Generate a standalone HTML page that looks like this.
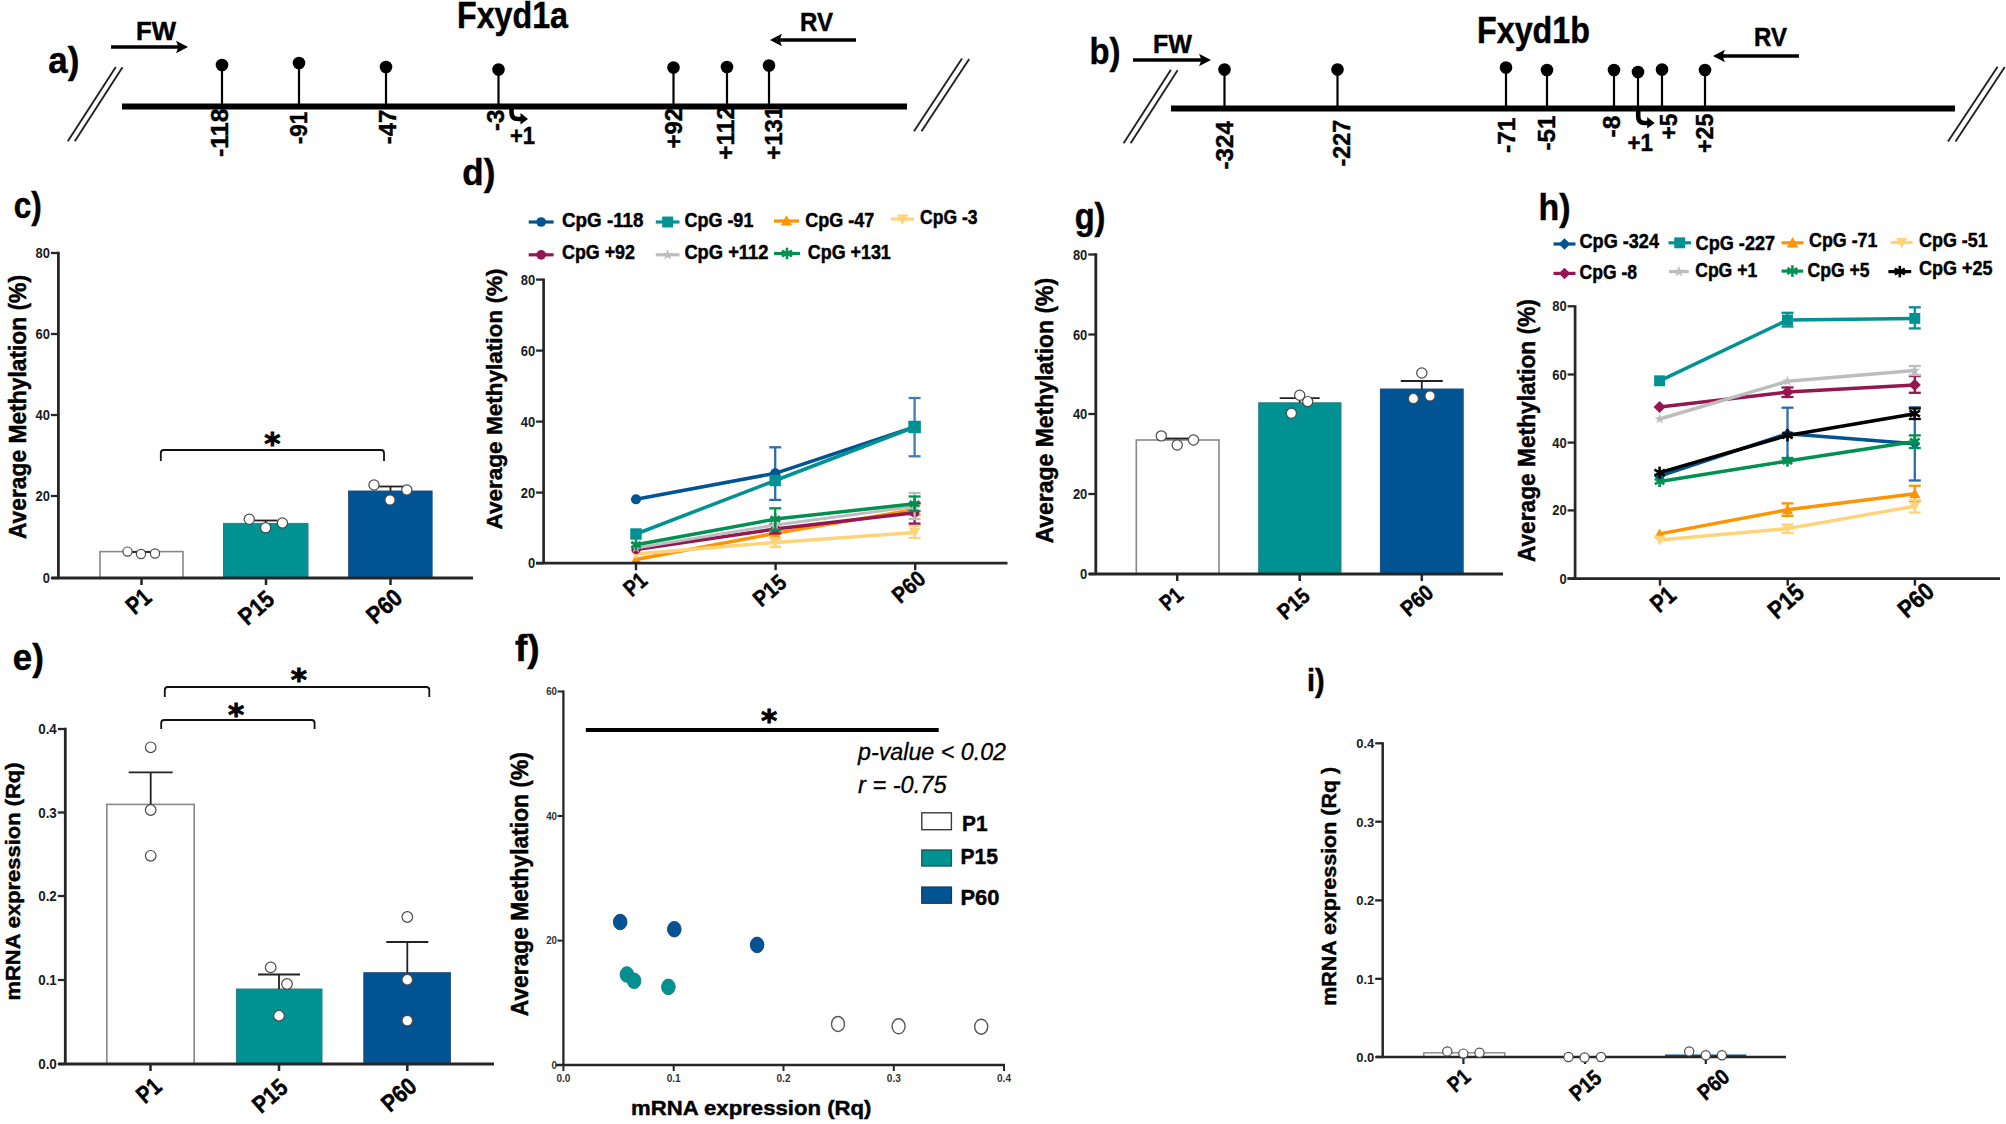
<!DOCTYPE html>
<html><head><meta charset="utf-8"><title>Fxyd1 methylation figure</title>
<style>html,body{margin:0;padding:0;background:#fff}svg{display:block}svg text{font-family:"Liberation Sans",sans-serif}svg text.ast{font-family:"DejaVu Sans","Liberation Sans",sans-serif}</style></head>
<body>
<svg width="2006" height="1124" viewBox="0 0 2006 1124">
<rect width="2006" height="1124" fill="#fff"/>
<text  font-size="36.5" font-weight="bold" text-anchor="start" fill="#000" textLength="31" lengthAdjust="spacingAndGlyphs" x="48.3" y="73" stroke="#000" stroke-width="0.45" >a)</text>
<text  font-size="36.5" font-weight="bold" text-anchor="start" fill="#000" textLength="111" lengthAdjust="spacingAndGlyphs" x="457" y="27.5" stroke="#000" stroke-width="0.45" >Fxyd1a</text>
<text  font-size="25.5" font-weight="bold" text-anchor="start" fill="#000" textLength="40" lengthAdjust="spacingAndGlyphs" x="136" y="40" stroke="#000" stroke-width="0.45" >FW</text>
<line x1="111" y1="47" x2="179.6" y2="47" stroke="#000" stroke-width="3.6" stroke-linecap="butt"/>
<polygon points="188,47 176,40.8 178.5,47 176,53.2" fill="#000"/>
<text  font-size="25.5" font-weight="bold" text-anchor="start" fill="#000" textLength="33" lengthAdjust="spacingAndGlyphs" x="800" y="31" stroke="#000" stroke-width="0.45" >RV</text>
<line x1="856" y1="40" x2="778.4" y2="40" stroke="#000" stroke-width="3.6" stroke-linecap="butt"/>
<polygon points="770,40 782,33.8 779.5,40 782,46.2" fill="#000"/>
<line x1="67.8" y1="141.2" x2="115.8" y2="66.9" stroke="#222" stroke-width="1.9" stroke-linecap="butt"/>
<line x1="74.8" y1="141.2" x2="122.5" y2="67.30000000000001" stroke="#222" stroke-width="1.9" stroke-linecap="butt"/>
<line x1="914" y1="131.3" x2="962" y2="58.6" stroke="#222" stroke-width="1.9" stroke-linecap="butt"/>
<line x1="921.5" y1="131.3" x2="969.2" y2="59.0" stroke="#222" stroke-width="1.9" stroke-linecap="butt"/>
<line x1="122" y1="106.5" x2="907" y2="106.5" stroke="#000" stroke-width="6" stroke-linecap="butt"/>
<line x1="222" y1="65" x2="222" y2="106" stroke="#000" stroke-width="2.2" stroke-linecap="butt"/>
<circle cx="222" cy="65" r="6.3" fill="#000"/>
<line x1="299" y1="63" x2="299" y2="106" stroke="#000" stroke-width="2.2" stroke-linecap="butt"/>
<circle cx="299" cy="63" r="6.3" fill="#000"/>
<line x1="386" y1="67" x2="386" y2="106" stroke="#000" stroke-width="2.2" stroke-linecap="butt"/>
<circle cx="386" cy="67" r="6.3" fill="#000"/>
<line x1="498.5" y1="69.5" x2="498.5" y2="106" stroke="#000" stroke-width="2.2" stroke-linecap="butt"/>
<circle cx="498.5" cy="69.5" r="6.3" fill="#000"/>
<line x1="673.5" y1="67.5" x2="673.5" y2="106" stroke="#000" stroke-width="2.2" stroke-linecap="butt"/>
<circle cx="673.5" cy="67.5" r="6.3" fill="#000"/>
<line x1="727" y1="67" x2="727" y2="106" stroke="#000" stroke-width="2.2" stroke-linecap="butt"/>
<circle cx="727" cy="67" r="6.3" fill="#000"/>
<line x1="769" y1="65.5" x2="769" y2="106" stroke="#000" stroke-width="2.2" stroke-linecap="butt"/>
<circle cx="769" cy="65.5" r="6.3" fill="#000"/>
<text  font-size="24" font-weight="bold" text-anchor="end" fill="#000" textLength="48.5" lengthAdjust="spacingAndGlyphs" transform="translate(227.5,108.5) rotate(-90)" stroke="#000" stroke-width="0.45" >-118</text>
<text  font-size="24" font-weight="bold" text-anchor="end" fill="#000" textLength="32.5" lengthAdjust="spacingAndGlyphs" transform="translate(307,111.7) rotate(-90)" stroke="#000" stroke-width="0.45" >-91</text>
<text  font-size="24" font-weight="bold" text-anchor="end" fill="#000" textLength="34.5" lengthAdjust="spacingAndGlyphs" transform="translate(396,109.7) rotate(-90)" stroke="#000" stroke-width="0.45" >-47</text>
<text  font-size="24" font-weight="bold" text-anchor="end" fill="#000" textLength="21.5" lengthAdjust="spacingAndGlyphs" transform="translate(503.5,109.5) rotate(-90)" stroke="#000" stroke-width="0.45" >-3</text>
<text  font-size="24" font-weight="bold" text-anchor="end" fill="#000" textLength="40.5" lengthAdjust="spacingAndGlyphs" transform="translate(681.7,108) rotate(-90)" stroke="#000" stroke-width="0.45" >+92</text>
<text  font-size="24" font-weight="bold" text-anchor="end" fill="#000" textLength="54" lengthAdjust="spacingAndGlyphs" transform="translate(734.2,105.8) rotate(-90)" stroke="#000" stroke-width="0.45" >+112</text>
<text  font-size="24" font-weight="bold" text-anchor="end" fill="#000" textLength="54" lengthAdjust="spacingAndGlyphs" transform="translate(781.5,105.8) rotate(-90)" stroke="#000" stroke-width="0.45" >+131</text>
<path d="M511.5,108.5 V112.5 Q511.5,119.0 518.0,119.0 H522.5" fill="none" stroke="#000" stroke-width="4.6"/>
<polygon points="528.0,119.0 520.5,113.0 520.5,124.5" fill="#000"/>
<text  font-size="24" font-weight="bold" text-anchor="start" fill="#000" textLength="25" lengthAdjust="spacingAndGlyphs" x="510" y="144" stroke="#000" stroke-width="0.45" >+1</text>
<text  font-size="37" font-weight="bold" text-anchor="start" fill="#000" textLength="31" lengthAdjust="spacingAndGlyphs" x="1089.5" y="64.3" stroke="#000" stroke-width="0.45" >b)</text>
<text  font-size="36.5" font-weight="bold" text-anchor="start" fill="#000" textLength="113" lengthAdjust="spacingAndGlyphs" x="1477" y="42.5" stroke="#000" stroke-width="0.45" >Fxyd1b</text>
<text  font-size="25.5" font-weight="bold" text-anchor="start" fill="#000" textLength="39" lengthAdjust="spacingAndGlyphs" x="1153" y="53" stroke="#000" stroke-width="0.45" >FW</text>
<line x1="1133" y1="60" x2="1202.6" y2="60" stroke="#000" stroke-width="3.6" stroke-linecap="butt"/>
<polygon points="1211,60 1199,53.8 1201.5,60 1199,66.2" fill="#000"/>
<text  font-size="25.5" font-weight="bold" text-anchor="start" fill="#000" textLength="33" lengthAdjust="spacingAndGlyphs" x="1754" y="46" stroke="#000" stroke-width="0.45" >RV</text>
<line x1="1799" y1="56" x2="1721.4" y2="56" stroke="#000" stroke-width="3.6" stroke-linecap="butt"/>
<polygon points="1713,56 1725,49.8 1722.5,56 1725,62.2" fill="#000"/>
<line x1="1123.6" y1="143.3" x2="1170.9" y2="69.8" stroke="#222" stroke-width="1.9" stroke-linecap="butt"/>
<line x1="1130.6" y1="143.3" x2="1177.6000000000001" y2="70.2" stroke="#222" stroke-width="1.9" stroke-linecap="butt"/>
<line x1="1948" y1="141.5" x2="1997.6" y2="66.7" stroke="#222" stroke-width="1.9" stroke-linecap="butt"/>
<line x1="1955.5" y1="141.5" x2="2004.8" y2="67.10000000000001" stroke="#222" stroke-width="1.9" stroke-linecap="butt"/>
<line x1="1171" y1="108.5" x2="1955" y2="108.5" stroke="#000" stroke-width="6" stroke-linecap="butt"/>
<line x1="1224.5" y1="69.5" x2="1224.5" y2="108" stroke="#000" stroke-width="2.2" stroke-linecap="butt"/>
<circle cx="1224.5" cy="69.5" r="6.3" fill="#000"/>
<line x1="1337.5" y1="69.5" x2="1337.5" y2="108" stroke="#000" stroke-width="2.2" stroke-linecap="butt"/>
<circle cx="1337.5" cy="69.5" r="6.3" fill="#000"/>
<line x1="1506" y1="67.5" x2="1506" y2="108" stroke="#000" stroke-width="2.2" stroke-linecap="butt"/>
<circle cx="1506" cy="67.5" r="6.3" fill="#000"/>
<line x1="1547" y1="70" x2="1547" y2="108" stroke="#000" stroke-width="2.2" stroke-linecap="butt"/>
<circle cx="1547" cy="70" r="6.3" fill="#000"/>
<line x1="1614" y1="70" x2="1614" y2="108" stroke="#000" stroke-width="2.2" stroke-linecap="butt"/>
<circle cx="1614" cy="70" r="6.3" fill="#000"/>
<line x1="1638" y1="72" x2="1638" y2="108" stroke="#000" stroke-width="2.2" stroke-linecap="butt"/>
<circle cx="1638" cy="72" r="6.3" fill="#000"/>
<line x1="1662" y1="69.5" x2="1662" y2="108" stroke="#000" stroke-width="2.2" stroke-linecap="butt"/>
<circle cx="1662" cy="69.5" r="6.3" fill="#000"/>
<line x1="1705" y1="70" x2="1705" y2="108" stroke="#000" stroke-width="2.2" stroke-linecap="butt"/>
<circle cx="1705" cy="70" r="6.3" fill="#000"/>
<text  font-size="24" font-weight="bold" text-anchor="end" fill="#000" textLength="48.5" lengthAdjust="spacingAndGlyphs" transform="translate(1232.7,121) rotate(-90)" stroke="#000" stroke-width="0.45" >-324</text>
<text  font-size="24" font-weight="bold" text-anchor="end" fill="#000" textLength="46.5" lengthAdjust="spacingAndGlyphs" transform="translate(1350,119.9) rotate(-90)" stroke="#000" stroke-width="0.45" >-227</text>
<text  font-size="24" font-weight="bold" text-anchor="end" fill="#000" textLength="35.5" lengthAdjust="spacingAndGlyphs" transform="translate(1514.5,117.5) rotate(-90)" stroke="#000" stroke-width="0.45" >-71</text>
<text  font-size="24" font-weight="bold" text-anchor="end" fill="#000" textLength="35" lengthAdjust="spacingAndGlyphs" transform="translate(1554.7,115.6) rotate(-90)" stroke="#000" stroke-width="0.45" >-51</text>
<text  font-size="24" font-weight="bold" text-anchor="end" fill="#000" textLength="22" lengthAdjust="spacingAndGlyphs" transform="translate(1619.5,115.6) rotate(-90)" stroke="#000" stroke-width="0.45" >-8</text>
<text  font-size="24" font-weight="bold" text-anchor="end" fill="#000" textLength="26" lengthAdjust="spacingAndGlyphs" transform="translate(1676.5,113.6) rotate(-90)" stroke="#000" stroke-width="0.45" >+5</text>
<text  font-size="24" font-weight="bold" text-anchor="end" fill="#000" textLength="39.5" lengthAdjust="spacingAndGlyphs" transform="translate(1712.8,113.6) rotate(-90)" stroke="#000" stroke-width="0.45" >+25</text>
<path d="M1638.2,110.5 V116.5 Q1638.2,123.0 1644.7,123.0 H1649.2" fill="none" stroke="#000" stroke-width="4.6"/>
<polygon points="1654.7,123.0 1647.2,117.0 1647.2,128.5" fill="#000"/>
<text  font-size="24" font-weight="bold" text-anchor="start" fill="#000" textLength="25.5" lengthAdjust="spacingAndGlyphs" x="1627.5" y="150.5" stroke="#000" stroke-width="0.45" >+1</text>
<text  font-size="36.5" font-weight="bold" text-anchor="start" fill="#000" textLength="28" lengthAdjust="spacingAndGlyphs" x="13.7" y="218" stroke="#000" stroke-width="0.45" >c)</text>
<text  font-size="23.5" font-weight="bold" text-anchor="middle" fill="#000" textLength="264" lengthAdjust="spacingAndGlyphs" transform="translate(25.8,407) rotate(-90)" stroke="#000" stroke-width="0.45" >Average Methylation (%)</text>
<rect x="100" y="551.6" width="83" height="26.399999999999977" fill="#fff" stroke="#888" stroke-width="1.6"/>
<rect x="223.5" y="523.4" width="84.5" height="54.60000000000002" fill="#009193" stroke="#2a7f80" stroke-width="1"/>
<rect x="348.6" y="491" width="83.5" height="87" fill="#005493" stroke="#1f4f80" stroke-width="1"/>
<line x1="58.4" y1="251.85" x2="58.4" y2="578" stroke="#262626" stroke-width="2.8" stroke-linecap="butt"/>
<line x1="51.5" y1="578" x2="473" y2="578" stroke="#262626" stroke-width="2.8" stroke-linecap="butt"/>
<line x1="50.9" y1="253" x2="58.4" y2="253" stroke="#262626" stroke-width="2.3" stroke-linecap="butt"/>
<text  font-size="14" font-weight="bold" text-anchor="end" fill="#1a1a1a" textLength="14.4" lengthAdjust="spacingAndGlyphs" x="49.9" y="258.0" >80</text>
<line x1="50.9" y1="334" x2="58.4" y2="334" stroke="#262626" stroke-width="2.3" stroke-linecap="butt"/>
<text  font-size="14" font-weight="bold" text-anchor="end" fill="#1a1a1a" textLength="14.4" lengthAdjust="spacingAndGlyphs" x="49.9" y="339.0" >60</text>
<line x1="50.9" y1="415" x2="58.4" y2="415" stroke="#262626" stroke-width="2.3" stroke-linecap="butt"/>
<text  font-size="14" font-weight="bold" text-anchor="end" fill="#1a1a1a" textLength="14.4" lengthAdjust="spacingAndGlyphs" x="49.9" y="420.0" >40</text>
<line x1="50.9" y1="496" x2="58.4" y2="496" stroke="#262626" stroke-width="2.3" stroke-linecap="butt"/>
<text  font-size="14" font-weight="bold" text-anchor="end" fill="#1a1a1a" textLength="14.4" lengthAdjust="spacingAndGlyphs" x="49.9" y="501.0" >20</text>
<line x1="50.9" y1="578" x2="58.4" y2="578" stroke="#262626" stroke-width="2.3" stroke-linecap="butt"/>
<text  font-size="14" font-weight="bold" text-anchor="end" fill="#1a1a1a" textLength="7.2" lengthAdjust="spacingAndGlyphs" x="49.9" y="583.0" >0</text>
<line x1="141.5" y1="578" x2="141.5" y2="585" stroke="#262626" stroke-width="2.52" stroke-linecap="butt"/>
<line x1="266" y1="578" x2="266" y2="585" stroke="#262626" stroke-width="2.52" stroke-linecap="butt"/>
<line x1="390.5" y1="578" x2="390.5" y2="585" stroke="#262626" stroke-width="2.52" stroke-linecap="butt"/>
<line x1="130" y1="552" x2="156" y2="552" stroke="#222" stroke-width="1.8" stroke-linecap="butt"/>
<line x1="265.6" y1="520.5" x2="265.6" y2="523.4" stroke="#222" stroke-width="1.8" stroke-linecap="butt"/>
<line x1="253.60000000000002" y1="520.5" x2="277.6" y2="520.5" stroke="#222" stroke-width="1.8" stroke-linecap="butt"/>
<line x1="390.5" y1="486.5" x2="390.5" y2="491" stroke="#222" stroke-width="1.8" stroke-linecap="butt"/>
<line x1="377.5" y1="486.5" x2="403.5" y2="486.5" stroke="#222" stroke-width="1.8" stroke-linecap="butt"/>
<circle cx="127.5" cy="551.6" r="4.6" fill="#fff" stroke="#4a4a4a" stroke-width="1.2"/>
<circle cx="141" cy="554" r="4.6" fill="#fff" stroke="#4a4a4a" stroke-width="1.2"/>
<circle cx="155" cy="553.5" r="4.6" fill="#fff" stroke="#4a4a4a" stroke-width="1.2"/>
<circle cx="249.3" cy="519.3" r="5.1" fill="#fff" stroke="#4a4a4a" stroke-width="1.2"/>
<circle cx="265.6" cy="527.7" r="5.1" fill="#fff" stroke="#4a4a4a" stroke-width="1.2"/>
<circle cx="282.4" cy="523" r="5.1" fill="#fff" stroke="#4a4a4a" stroke-width="1.2"/>
<circle cx="374" cy="485" r="5.1" fill="#fff" stroke="#4a4a4a" stroke-width="1.2"/>
<circle cx="390" cy="500" r="5.1" fill="#fff" stroke="#4a4a4a" stroke-width="1.2"/>
<circle cx="406.8" cy="490" r="5.1" fill="#fff" stroke="#4a4a4a" stroke-width="1.2"/>
<path d="M160.8,461 V453 Q160.8,450 163.8,450 H381 Q384,450 384,453 V461" fill="none" stroke="#111" stroke-width="1.8"/>
<text class="ast" font-size="31" font-weight="bold" text-anchor="middle" stroke="#000" stroke-width="0.9" x="272.3" y="454.27">*</text>
<text  font-size="24.4" font-weight="bold" text-anchor="end" fill="#000" textLength="24.4" lengthAdjust="spacingAndGlyphs" transform="translate(153.1,599.6) rotate(-41)" stroke="#000" stroke-width="0.45" >P1</text>
<text  font-size="24.4" font-weight="bold" text-anchor="end" fill="#000" textLength="38.1" lengthAdjust="spacingAndGlyphs" transform="translate(276.1,601.6) rotate(-41)" stroke="#000" stroke-width="0.45" >P15</text>
<text  font-size="24.4" font-weight="bold" text-anchor="end" fill="#000" textLength="38.1" lengthAdjust="spacingAndGlyphs" transform="translate(404.1,600.2) rotate(-41)" stroke="#000" stroke-width="0.45" >P60</text>
<text  font-size="36.5" font-weight="bold" text-anchor="start" fill="#000" textLength="31" lengthAdjust="spacingAndGlyphs" x="12.8" y="670.3" stroke="#000" stroke-width="0.45" >e)</text>
<text  font-size="20.5" font-weight="bold" text-anchor="middle" fill="#000" textLength="238" lengthAdjust="spacingAndGlyphs" transform="translate(20.3,881.5) rotate(-90)" stroke="#000" stroke-width="0.45" >mRNA expression (Rq)</text>
<rect x="106.8" y="804.4" width="87.4" height="259.6" fill="#fff" stroke="#888" stroke-width="1.6"/>
<rect x="236.4" y="989" width="85.6" height="75" fill="#009193" stroke="#2a7f80" stroke-width="1"/>
<rect x="363.8" y="972.7" width="86.6" height="91.29999999999995" fill="#005493" stroke="#1f4f80" stroke-width="1"/>
<line x1="65.3" y1="727.85" x2="65.3" y2="1064" stroke="#262626" stroke-width="2.8" stroke-linecap="butt"/>
<line x1="58.5" y1="1064" x2="494" y2="1064" stroke="#262626" stroke-width="2.8" stroke-linecap="butt"/>
<line x1="57.8" y1="729" x2="65.3" y2="729" stroke="#262626" stroke-width="2.3" stroke-linecap="butt"/>
<text  font-size="14" font-weight="bold" text-anchor="end" fill="#1a1a1a" textLength="18.6" lengthAdjust="spacingAndGlyphs" x="56.8" y="734.0" >0.4</text>
<line x1="57.8" y1="812.5" x2="65.3" y2="812.5" stroke="#262626" stroke-width="2.3" stroke-linecap="butt"/>
<text  font-size="14" font-weight="bold" text-anchor="end" fill="#1a1a1a" textLength="18.6" lengthAdjust="spacingAndGlyphs" x="56.8" y="817.5" >0.3</text>
<line x1="57.8" y1="896" x2="65.3" y2="896" stroke="#262626" stroke-width="2.3" stroke-linecap="butt"/>
<text  font-size="14" font-weight="bold" text-anchor="end" fill="#1a1a1a" textLength="18.6" lengthAdjust="spacingAndGlyphs" x="56.8" y="901.0" >0.2</text>
<line x1="57.8" y1="980" x2="65.3" y2="980" stroke="#262626" stroke-width="2.3" stroke-linecap="butt"/>
<text  font-size="14" font-weight="bold" text-anchor="end" fill="#1a1a1a" textLength="18.6" lengthAdjust="spacingAndGlyphs" x="56.8" y="985.0" >0.1</text>
<line x1="57.8" y1="1064" x2="65.3" y2="1064" stroke="#262626" stroke-width="2.3" stroke-linecap="butt"/>
<text  font-size="14" font-weight="bold" text-anchor="end" fill="#1a1a1a" textLength="18.6" lengthAdjust="spacingAndGlyphs" x="56.8" y="1069.0" >0.0</text>
<line x1="150.5" y1="1064" x2="150.5" y2="1071" stroke="#262626" stroke-width="2.52" stroke-linecap="butt"/>
<line x1="279" y1="1064" x2="279" y2="1071" stroke="#262626" stroke-width="2.52" stroke-linecap="butt"/>
<line x1="407.3" y1="1064" x2="407.3" y2="1071" stroke="#262626" stroke-width="2.52" stroke-linecap="butt"/>
<line x1="150.7" y1="772.4" x2="150.7" y2="804.4" stroke="#222" stroke-width="1.8" stroke-linecap="butt"/>
<line x1="128.7" y1="772.4" x2="172.7" y2="772.4" stroke="#222" stroke-width="1.8" stroke-linecap="butt"/>
<line x1="279" y1="974.5" x2="279" y2="989" stroke="#222" stroke-width="1.8" stroke-linecap="butt"/>
<line x1="258" y1="974.5" x2="300" y2="974.5" stroke="#222" stroke-width="1.8" stroke-linecap="butt"/>
<line x1="407.3" y1="942" x2="407.3" y2="972.7" stroke="#222" stroke-width="1.8" stroke-linecap="butt"/>
<line x1="386.3" y1="942" x2="428.3" y2="942" stroke="#222" stroke-width="1.8" stroke-linecap="butt"/>
<circle cx="150.7" cy="747.3" r="5.3" fill="#fff" stroke="#4a4a4a" stroke-width="1.2"/>
<circle cx="150.7" cy="810" r="5.3" fill="#fff" stroke="#4a4a4a" stroke-width="1.2"/>
<circle cx="150.7" cy="855.8" r="5.3" fill="#fff" stroke="#4a4a4a" stroke-width="1.2"/>
<circle cx="270.7" cy="967.4" r="5.3" fill="#fff" stroke="#4a4a4a" stroke-width="1.2"/>
<circle cx="287" cy="984" r="5.3" fill="#fff" stroke="#4a4a4a" stroke-width="1.2"/>
<circle cx="279" cy="1015.8" r="5.3" fill="#fff" stroke="#4a4a4a" stroke-width="1.2"/>
<circle cx="407.3" cy="917" r="5.3" fill="#fff" stroke="#4a4a4a" stroke-width="1.2"/>
<circle cx="407.3" cy="979.7" r="5.3" fill="#fff" stroke="#4a4a4a" stroke-width="1.2"/>
<circle cx="407.3" cy="1020.6" r="5.3" fill="#fff" stroke="#4a4a4a" stroke-width="1.2"/>
<path d="M164.8,697 V690 Q164.8,687 167.8,687 H426.3 Q429.3,687 429.3,690 V697" fill="none" stroke="#111" stroke-width="1.8"/>
<text class="ast" font-size="31" font-weight="bold" text-anchor="middle" stroke="#000" stroke-width="0.9" x="298.8" y="690.27">*</text>
<path d="M161.2,729 V723 Q161.2,720 164.2,720 H311.6 Q314.6,720 314.6,723 V729" fill="none" stroke="#111" stroke-width="1.8"/>
<text class="ast" font-size="31" font-weight="bold" text-anchor="middle" stroke="#000" stroke-width="0.9" x="236" y="725.27">*</text>
<text  font-size="24.1" font-weight="bold" text-anchor="end" fill="#000" textLength="24.1" lengthAdjust="spacingAndGlyphs" transform="translate(163.3,1088.7) rotate(-41)" stroke="#000" stroke-width="0.45" >P1</text>
<text  font-size="24.1" font-weight="bold" text-anchor="end" fill="#000" textLength="37.6" lengthAdjust="spacingAndGlyphs" transform="translate(289.3,1089.9) rotate(-41)" stroke="#000" stroke-width="0.45" >P15</text>
<text  font-size="24.1" font-weight="bold" text-anchor="end" fill="#000" textLength="37.6" lengthAdjust="spacingAndGlyphs" transform="translate(418.3,1088.7) rotate(-41)" stroke="#000" stroke-width="0.45" >P60</text>
<text  font-size="36.5" font-weight="bold" text-anchor="start" fill="#000" textLength="30.8" lengthAdjust="spacingAndGlyphs" x="1074.7" y="228.7" stroke="#000" stroke-width="0.45" >g)</text>
<text  font-size="23.5" font-weight="bold" text-anchor="middle" fill="#000" textLength="265.5" lengthAdjust="spacingAndGlyphs" transform="translate(1052.8,410.6) rotate(-90)" stroke="#000" stroke-width="0.45" >Average Methylation (%)</text>
<rect x="1136.3" y="440" width="82.7" height="134" fill="#fff" stroke="#888" stroke-width="1.6"/>
<rect x="1258.7" y="402.8" width="82.3" height="171.2" fill="#009193" stroke="#2a7f80" stroke-width="1"/>
<rect x="1380.4" y="389" width="82.8" height="185" fill="#005493" stroke="#1f4f80" stroke-width="1"/>
<line x1="1095.8" y1="253.35" x2="1095.8" y2="574" stroke="#262626" stroke-width="2.8" stroke-linecap="butt"/>
<line x1="1089" y1="574" x2="1503" y2="574" stroke="#262626" stroke-width="2.8" stroke-linecap="butt"/>
<line x1="1088.3" y1="254.5" x2="1095.8" y2="254.5" stroke="#262626" stroke-width="2.3" stroke-linecap="butt"/>
<text  font-size="14" font-weight="bold" text-anchor="end" fill="#1a1a1a" textLength="14.4" lengthAdjust="spacingAndGlyphs" x="1087.3" y="259.5" >80</text>
<line x1="1088.3" y1="334.5" x2="1095.8" y2="334.5" stroke="#262626" stroke-width="2.3" stroke-linecap="butt"/>
<text  font-size="14" font-weight="bold" text-anchor="end" fill="#1a1a1a" textLength="14.4" lengthAdjust="spacingAndGlyphs" x="1087.3" y="339.5" >60</text>
<line x1="1088.3" y1="414" x2="1095.8" y2="414" stroke="#262626" stroke-width="2.3" stroke-linecap="butt"/>
<text  font-size="14" font-weight="bold" text-anchor="end" fill="#1a1a1a" textLength="14.4" lengthAdjust="spacingAndGlyphs" x="1087.3" y="419.0" >40</text>
<line x1="1088.3" y1="494" x2="1095.8" y2="494" stroke="#262626" stroke-width="2.3" stroke-linecap="butt"/>
<text  font-size="14" font-weight="bold" text-anchor="end" fill="#1a1a1a" textLength="14.4" lengthAdjust="spacingAndGlyphs" x="1087.3" y="499.0" >20</text>
<line x1="1088.3" y1="574" x2="1095.8" y2="574" stroke="#262626" stroke-width="2.3" stroke-linecap="butt"/>
<text  font-size="14" font-weight="bold" text-anchor="end" fill="#1a1a1a" textLength="7.2" lengthAdjust="spacingAndGlyphs" x="1087.3" y="579.0" >0</text>
<line x1="1177.2" y1="574" x2="1177.2" y2="581" stroke="#262626" stroke-width="2.52" stroke-linecap="butt"/>
<line x1="1299.7" y1="574" x2="1299.7" y2="581" stroke="#262626" stroke-width="2.52" stroke-linecap="butt"/>
<line x1="1421.8" y1="574" x2="1421.8" y2="581" stroke="#262626" stroke-width="2.52" stroke-linecap="butt"/>
<line x1="1165" y1="438.5" x2="1190" y2="438.5" stroke="#222" stroke-width="1.8" stroke-linecap="butt"/>
<line x1="1299.7" y1="398.2" x2="1299.7" y2="402.8" stroke="#222" stroke-width="1.8" stroke-linecap="butt"/>
<line x1="1279.7" y1="398.2" x2="1319.7" y2="398.2" stroke="#222" stroke-width="1.8" stroke-linecap="butt"/>
<line x1="1421.8" y1="381" x2="1421.8" y2="389" stroke="#222" stroke-width="1.8" stroke-linecap="butt"/>
<line x1="1400.8" y1="381" x2="1442.8" y2="381" stroke="#222" stroke-width="1.8" stroke-linecap="butt"/>
<circle cx="1161.3" cy="435.9" r="5.1" fill="#fff" stroke="#4a4a4a" stroke-width="1.2"/>
<circle cx="1177.2" cy="445" r="5.1" fill="#fff" stroke="#4a4a4a" stroke-width="1.2"/>
<circle cx="1193.5" cy="440" r="5.1" fill="#fff" stroke="#4a4a4a" stroke-width="1.2"/>
<circle cx="1299.7" cy="395.3" r="5.1" fill="#fff" stroke="#4a4a4a" stroke-width="1.2"/>
<circle cx="1307.7" cy="401.6" r="5.1" fill="#fff" stroke="#4a4a4a" stroke-width="1.2"/>
<circle cx="1291.4" cy="413.3" r="5.1" fill="#fff" stroke="#4a4a4a" stroke-width="1.2"/>
<circle cx="1421.8" cy="373" r="5.1" fill="#fff" stroke="#4a4a4a" stroke-width="1.2"/>
<circle cx="1413.4" cy="398.6" r="5.1" fill="#fff" stroke="#4a4a4a" stroke-width="1.2"/>
<circle cx="1430" cy="396" r="5.1" fill="#fff" stroke="#4a4a4a" stroke-width="1.2"/>
<text  font-size="22.1" font-weight="bold" text-anchor="end" fill="#000" textLength="22.1" lengthAdjust="spacingAndGlyphs" transform="translate(1184.5,597.3) rotate(-41)" stroke="#000" stroke-width="0.45" >P1</text>
<text  font-size="22.1" font-weight="bold" text-anchor="end" fill="#000" textLength="34.5" lengthAdjust="spacingAndGlyphs" transform="translate(1311.5,598.1) rotate(-41)" stroke="#000" stroke-width="0.45" >P15</text>
<text  font-size="22.1" font-weight="bold" text-anchor="end" fill="#000" textLength="34.5" lengthAdjust="spacingAndGlyphs" transform="translate(1434.9,594.8) rotate(-41)" stroke="#000" stroke-width="0.45" >P60</text>
<text  font-size="32" font-weight="bold" text-anchor="start" fill="#000" textLength="17.6" lengthAdjust="spacingAndGlyphs" x="1307" y="691" stroke="#000" stroke-width="0.45" >i)</text>
<text  font-size="20.5" font-weight="bold" text-anchor="middle" fill="#000" textLength="239" lengthAdjust="spacingAndGlyphs" transform="translate(1336.2,886.3) rotate(-90)" stroke="#000" stroke-width="0.45" >mRNA expression  (Rq )</text>
<rect x="1423.8" y="1052.8" width="81" height="4.2000000000000455" fill="#fff" stroke="#888" stroke-width="1.4"/>
<rect x="1665" y="1054.5" width="81.4" height="2.5" fill="#005493"/>
<line x1="1382.7" y1="742.15" x2="1382.7" y2="1057" stroke="#262626" stroke-width="2.5" stroke-linecap="butt"/>
<line x1="1376" y1="1057" x2="1786" y2="1057" stroke="#262626" stroke-width="2.5" stroke-linecap="butt"/>
<line x1="1375.2" y1="743.3" x2="1382.7" y2="743.3" stroke="#262626" stroke-width="2.3" stroke-linecap="butt"/>
<text  font-size="13.5" font-weight="bold" text-anchor="end" fill="#1a1a1a" textLength="18.0" lengthAdjust="spacingAndGlyphs" x="1374.2" y="748.1" >0.4</text>
<line x1="1375.2" y1="821.7" x2="1382.7" y2="821.7" stroke="#262626" stroke-width="2.3" stroke-linecap="butt"/>
<text  font-size="13.5" font-weight="bold" text-anchor="end" fill="#1a1a1a" textLength="18.0" lengthAdjust="spacingAndGlyphs" x="1374.2" y="826.5" >0.3</text>
<line x1="1375.2" y1="900.4" x2="1382.7" y2="900.4" stroke="#262626" stroke-width="2.3" stroke-linecap="butt"/>
<text  font-size="13.5" font-weight="bold" text-anchor="end" fill="#1a1a1a" textLength="18.0" lengthAdjust="spacingAndGlyphs" x="1374.2" y="905.2" >0.2</text>
<line x1="1375.2" y1="978.8" x2="1382.7" y2="978.8" stroke="#262626" stroke-width="2.3" stroke-linecap="butt"/>
<text  font-size="13.5" font-weight="bold" text-anchor="end" fill="#1a1a1a" textLength="18.0" lengthAdjust="spacingAndGlyphs" x="1374.2" y="983.6" >0.1</text>
<line x1="1375.2" y1="1057" x2="1382.7" y2="1057" stroke="#262626" stroke-width="2.3" stroke-linecap="butt"/>
<text  font-size="13.5" font-weight="bold" text-anchor="end" fill="#1a1a1a" textLength="18.0" lengthAdjust="spacingAndGlyphs" x="1374.2" y="1061.8" >0.0</text>
<line x1="1463.4" y1="1057" x2="1463.4" y2="1064" stroke="#262626" stroke-width="2.25" stroke-linecap="butt"/>
<line x1="1585.1" y1="1057" x2="1585.1" y2="1064" stroke="#262626" stroke-width="2.25" stroke-linecap="butt"/>
<line x1="1705.8" y1="1057" x2="1705.8" y2="1064" stroke="#262626" stroke-width="2.25" stroke-linecap="butt"/>
<circle cx="1447.3" cy="1051.4" r="4.6" fill="#fff" stroke="#4a4a4a" stroke-width="1.2"/>
<circle cx="1463.4" cy="1053.6" r="4.6" fill="#fff" stroke="#4a4a4a" stroke-width="1.2"/>
<circle cx="1479.5" cy="1052.8" r="4.6" fill="#fff" stroke="#4a4a4a" stroke-width="1.2"/>
<circle cx="1568.5" cy="1057" r="4.6" fill="#fff" stroke="#4a4a4a" stroke-width="1.2"/>
<circle cx="1584.6" cy="1057.5" r="4.6" fill="#fff" stroke="#4a4a4a" stroke-width="1.2"/>
<circle cx="1601" cy="1057" r="4.6" fill="#fff" stroke="#4a4a4a" stroke-width="1.2"/>
<circle cx="1689.2" cy="1051.4" r="4.6" fill="#fff" stroke="#4a4a4a" stroke-width="1.2"/>
<circle cx="1705.8" cy="1055.3" r="4.6" fill="#fff" stroke="#4a4a4a" stroke-width="1.2"/>
<circle cx="1721.9" cy="1055.3" r="4.6" fill="#fff" stroke="#4a4a4a" stroke-width="1.2"/>
<text  font-size="21.8" font-weight="bold" text-anchor="end" fill="#000" textLength="21.8" lengthAdjust="spacingAndGlyphs" transform="translate(1471.9,1079.0) rotate(-41)" stroke="#000" stroke-width="0.45" >P1</text>
<text  font-size="21.8" font-weight="bold" text-anchor="end" fill="#000" textLength="34.0" lengthAdjust="spacingAndGlyphs" transform="translate(1603.1,1079.9) rotate(-41)" stroke="#000" stroke-width="0.45" >P15</text>
<text  font-size="21.8" font-weight="bold" text-anchor="end" fill="#000" textLength="34.0" lengthAdjust="spacingAndGlyphs" transform="translate(1731.1,1078.9) rotate(-41)" stroke="#000" stroke-width="0.45" >P60</text>
<text  font-size="37" font-weight="bold" text-anchor="start" fill="#000" textLength="24.7" lengthAdjust="spacingAndGlyphs" x="515" y="661" stroke="#000" stroke-width="0.45" >f)</text>
<line x1="563.4" y1="690.5" x2="563.4" y2="1065" stroke="#262626" stroke-width="2.3" stroke-linecap="butt"/>
<line x1="556" y1="1065" x2="1005" y2="1065" stroke="#262626" stroke-width="2.3" stroke-linecap="butt"/>
<line x1="557.5" y1="691.5" x2="563.4" y2="691.5" stroke="#262626" stroke-width="2" stroke-linecap="butt"/>
<text  font-size="10" font-weight="bold" text-anchor="end" fill="#333" textLength="10.8" lengthAdjust="spacingAndGlyphs" x="557" y="695.0" >60</text>
<line x1="557.5" y1="816" x2="563.4" y2="816" stroke="#262626" stroke-width="2" stroke-linecap="butt"/>
<text  font-size="10" font-weight="bold" text-anchor="end" fill="#333" textLength="10.8" lengthAdjust="spacingAndGlyphs" x="557" y="819.5" >40</text>
<line x1="557.5" y1="940.6" x2="563.4" y2="940.6" stroke="#262626" stroke-width="2" stroke-linecap="butt"/>
<text  font-size="10" font-weight="bold" text-anchor="end" fill="#333" textLength="10.8" lengthAdjust="spacingAndGlyphs" x="557" y="944.1" >20</text>
<line x1="557.5" y1="1065" x2="563.4" y2="1065" stroke="#262626" stroke-width="2" stroke-linecap="butt"/>
<text  font-size="10" font-weight="bold" text-anchor="end" fill="#333" textLength="5.4" lengthAdjust="spacingAndGlyphs" x="557" y="1068.5" >0</text>
<line x1="563.4" y1="1065" x2="563.4" y2="1071" stroke="#262626" stroke-width="2" stroke-linecap="butt"/>
<text  font-size="10" font-weight="bold" text-anchor="middle" fill="#333" textLength="14.0" lengthAdjust="spacingAndGlyphs" x="563.4" y="1082" >0.0</text>
<line x1="673.7" y1="1065" x2="673.7" y2="1071" stroke="#262626" stroke-width="2" stroke-linecap="butt"/>
<text  font-size="10" font-weight="bold" text-anchor="middle" fill="#333" textLength="14.0" lengthAdjust="spacingAndGlyphs" x="673.7" y="1082" >0.1</text>
<line x1="783.5" y1="1065" x2="783.5" y2="1071" stroke="#262626" stroke-width="2" stroke-linecap="butt"/>
<text  font-size="10" font-weight="bold" text-anchor="middle" fill="#333" textLength="14.0" lengthAdjust="spacingAndGlyphs" x="783.5" y="1082" >0.2</text>
<line x1="893.8" y1="1065" x2="893.8" y2="1071" stroke="#262626" stroke-width="2" stroke-linecap="butt"/>
<text  font-size="10" font-weight="bold" text-anchor="middle" fill="#333" textLength="14.0" lengthAdjust="spacingAndGlyphs" x="893.8" y="1082" >0.3</text>
<line x1="1004" y1="1065" x2="1004" y2="1071" stroke="#262626" stroke-width="2" stroke-linecap="butt"/>
<text  font-size="10" font-weight="bold" text-anchor="middle" fill="#333" textLength="14.0" lengthAdjust="spacingAndGlyphs" x="1004" y="1082" >0.4</text>
<text  font-size="23.5" font-weight="bold" text-anchor="middle" fill="#000" textLength="264" lengthAdjust="spacingAndGlyphs" transform="translate(528.1,884.2) rotate(-90)" stroke="#000" stroke-width="0.45" >Average Methylation (%)</text>
<text  font-size="21" font-weight="bold" text-anchor="start" fill="#000" textLength="240.5" lengthAdjust="spacingAndGlyphs" x="631" y="1114.6" stroke="#000" stroke-width="0.45" >mRNA expression (Rq)</text>
<line x1="585.8" y1="730" x2="938.7" y2="730" stroke="#000" stroke-width="4.2" stroke-linecap="butt"/>
<text class="ast" font-size="31" font-weight="bold" text-anchor="middle" stroke="#000" stroke-width="0.9" x="769" y="730.67">*</text>
<text  font-size="23" font-weight="normal" text-anchor="start" fill="#000" font-style="italic" textLength="148" lengthAdjust="spacingAndGlyphs" x="858" y="760.4" stroke="#000" stroke-width="0.3" >p-value &lt; 0.02</text>
<text  font-size="23" font-weight="normal" text-anchor="start" fill="#000" font-style="italic" textLength="88.5" lengthAdjust="spacingAndGlyphs" x="858" y="792.5" stroke="#000" stroke-width="0.3" >r = -0.75</text>
<rect x="921.8" y="812.8" width="29.6" height="16.9" fill="#fff" stroke="#3a3a3a" stroke-width="1.4"/>
<text  font-size="22.5" font-weight="bold" text-anchor="start" fill="#000" textLength="25.5" lengthAdjust="spacingAndGlyphs" x="962" y="831.4" stroke="#000" stroke-width="0.45" >P1</text>
<rect x="921.8" y="850" width="29.6" height="16" fill="#009193" stroke="#1d5a5c" stroke-width="1.4"/>
<text  font-size="22.5" font-weight="bold" text-anchor="start" fill="#000" textLength="37.5" lengthAdjust="spacingAndGlyphs" x="960.5" y="863.5" stroke="#000" stroke-width="0.45" >P15</text>
<rect x="921.8" y="887.1" width="29.6" height="16.1" fill="#005493" stroke="#123a66" stroke-width="1.4"/>
<text  font-size="22.5" font-weight="bold" text-anchor="start" fill="#000" textLength="39" lengthAdjust="spacingAndGlyphs" x="960.5" y="904.9" stroke="#000" stroke-width="0.45" >P60</text>
<ellipse cx="620.2" cy="922" rx="6.8" ry="7.8" fill="#005493" stroke="#1c4a86" stroke-width="1"/>
<ellipse cx="674.3" cy="929.2" rx="6.8" ry="7.8" fill="#005493" stroke="#1c4a86" stroke-width="1"/>
<ellipse cx="757.1" cy="944.9" rx="6.8" ry="7.8" fill="#005493" stroke="#1c4a86" stroke-width="1"/>
<ellipse cx="626.9" cy="974.5" rx="6.8" ry="7.8" fill="#009193" stroke="#1f7f80" stroke-width="1"/>
<ellipse cx="634.1" cy="980.8" rx="6.8" ry="7.8" fill="#009193" stroke="#1f7f80" stroke-width="1"/>
<ellipse cx="668.4" cy="986.9" rx="6.8" ry="7.8" fill="#009193" stroke="#1f7f80" stroke-width="1"/>
<ellipse cx="838" cy="1024" rx="6.5" ry="7.5" fill="#fff" stroke="#555" stroke-width="1.4"/>
<ellipse cx="898.6" cy="1026.3" rx="6.5" ry="7.5" fill="#fff" stroke="#555" stroke-width="1.4"/>
<ellipse cx="981.2" cy="1026.7" rx="6.5" ry="7.5" fill="#fff" stroke="#555" stroke-width="1.4"/>
<text  font-size="37" font-weight="bold" text-anchor="start" fill="#000" textLength="33" lengthAdjust="spacingAndGlyphs" x="462.3" y="185.4" stroke="#000" stroke-width="0.45" >d)</text>
<text  font-size="22.5" font-weight="bold" text-anchor="middle" fill="#000" textLength="261" lengthAdjust="spacingAndGlyphs" transform="translate(501.5,399) rotate(-90)" stroke="#000" stroke-width="0.45" >Average Methylation (%)</text>
<line x1="775.2" y1="447.3" x2="775.2" y2="499.9" stroke="#2f6bb0" stroke-width="2.3" stroke-linecap="butt"/>
<line x1="769.2" y1="447.3" x2="781.2" y2="447.3" stroke="#2f6bb0" stroke-width="2.3" stroke-linecap="butt"/>
<line x1="769.2" y1="499.9" x2="781.2" y2="499.9" stroke="#2f6bb0" stroke-width="2.3" stroke-linecap="butt"/>
<line x1="914.6" y1="398" x2="914.6" y2="456.3" stroke="#3f7db8" stroke-width="2.3" stroke-linecap="butt"/>
<line x1="908.6" y1="398" x2="920.6" y2="398" stroke="#3f7db8" stroke-width="2.3" stroke-linecap="butt"/>
<line x1="908.6" y1="456.3" x2="920.6" y2="456.3" stroke="#3f7db8" stroke-width="2.3" stroke-linecap="butt"/>
<polyline points="636,499.3 775.2,473.3 914.6,427" fill="none" stroke="#005493" stroke-width="3.5" stroke-linejoin="round"/>
<circle cx="636" cy="499.3" r="5.06" fill="#005493"/>
<circle cx="775.2" cy="473.3" r="5.06" fill="#005493"/>
<circle cx="914.6" cy="427" r="5.06" fill="#005493"/>
<polyline points="636,534 775.2,480.5 914.6,427" fill="none" stroke="#009193" stroke-width="3.5" stroke-linejoin="round"/>
<rect x="630.28" y="528.28" width="11.440000000000001" height="11.440000000000001" fill="#009193"/>
<rect x="769.48" y="474.78" width="11.440000000000001" height="11.440000000000001" fill="#009193"/>
<rect x="908.88" y="421.28" width="11.440000000000001" height="11.440000000000001" fill="#009193"/>
<rect x="908.36" y="420.76" width="12.48" height="12.48" fill="#009193"/>
<line x1="775.2" y1="529" x2="775.2" y2="538" stroke="#FF9300" stroke-width="2.3" stroke-linecap="butt"/>
<line x1="769.2" y1="529" x2="781.2" y2="529" stroke="#FF9300" stroke-width="2.3" stroke-linecap="butt"/>
<line x1="769.2" y1="538" x2="781.2" y2="538" stroke="#FF9300" stroke-width="2.3" stroke-linecap="butt"/>
<line x1="914.6" y1="504" x2="914.6" y2="515" stroke="#FF9300" stroke-width="2.3" stroke-linecap="butt"/>
<line x1="908.6" y1="504" x2="920.6" y2="504" stroke="#FF9300" stroke-width="2.3" stroke-linecap="butt"/>
<line x1="908.6" y1="515" x2="920.6" y2="515" stroke="#FF9300" stroke-width="2.3" stroke-linecap="butt"/>
<polyline points="636,559.5 775.2,533.4 914.6,509.6" fill="none" stroke="#FF9300" stroke-width="3.5" stroke-linejoin="round"/>
<polygon points="636,554.0 630.5,563.9 641.5,563.9" fill="#FF9300"/>
<polygon points="775.2,527.9 769.7,537.8 780.7,537.8" fill="#FF9300"/>
<polygon points="914.6,504.1 909.1,514.0 920.1,514.0" fill="#FF9300"/>
<line x1="775.2" y1="538" x2="775.2" y2="547" stroke="#FFD479" stroke-width="2.3" stroke-linecap="butt"/>
<line x1="769.2" y1="538" x2="781.2" y2="538" stroke="#FFD479" stroke-width="2.3" stroke-linecap="butt"/>
<line x1="769.2" y1="547" x2="781.2" y2="547" stroke="#FFD479" stroke-width="2.3" stroke-linecap="butt"/>
<line x1="914.6" y1="526" x2="914.6" y2="538" stroke="#FFD479" stroke-width="2.3" stroke-linecap="butt"/>
<line x1="908.6" y1="526" x2="920.6" y2="526" stroke="#FFD479" stroke-width="2.3" stroke-linecap="butt"/>
<line x1="908.6" y1="538" x2="920.6" y2="538" stroke="#FFD479" stroke-width="2.3" stroke-linecap="butt"/>
<polyline points="636,554 775.2,542.4 914.6,532.5" fill="none" stroke="#FFD479" stroke-width="3.5" stroke-linejoin="round"/>
<polygon points="636,559.5 630.5,549.6 641.5,549.6" fill="#FFD479"/>
<polygon points="775.2,547.9 769.7,538.0 780.7,538.0" fill="#FFD479"/>
<polygon points="914.6,538.0 909.1,528.1 920.1,528.1" fill="#FFD479"/>
<line x1="775.2" y1="524.5" x2="775.2" y2="533.5" stroke="#941751" stroke-width="2.3" stroke-linecap="butt"/>
<line x1="769.2" y1="524.5" x2="781.2" y2="524.5" stroke="#941751" stroke-width="2.3" stroke-linecap="butt"/>
<line x1="769.2" y1="533.5" x2="781.2" y2="533.5" stroke="#941751" stroke-width="2.3" stroke-linecap="butt"/>
<line x1="914.6" y1="503" x2="914.6" y2="523.6" stroke="#941751" stroke-width="2.3" stroke-linecap="butt"/>
<line x1="908.6" y1="503" x2="920.6" y2="503" stroke="#941751" stroke-width="2.3" stroke-linecap="butt"/>
<line x1="908.6" y1="523.6" x2="920.6" y2="523.6" stroke="#941751" stroke-width="2.3" stroke-linecap="butt"/>
<polyline points="636,549.6 775.2,529 914.6,512.8" fill="none" stroke="#941751" stroke-width="3.5" stroke-linejoin="round"/>
<circle cx="636" cy="549.6" r="4.6" fill="#941751"/>
<circle cx="775.2" cy="529" r="4.6" fill="#941751"/>
<circle cx="914.6" cy="512.8" r="4.6" fill="#941751"/>
<line x1="775.2" y1="520" x2="775.2" y2="530" stroke="#BDBDBD" stroke-width="2.3" stroke-linecap="butt"/>
<line x1="769.2" y1="520" x2="781.2" y2="520" stroke="#BDBDBD" stroke-width="2.3" stroke-linecap="butt"/>
<line x1="769.2" y1="530" x2="781.2" y2="530" stroke="#BDBDBD" stroke-width="2.3" stroke-linecap="butt"/>
<line x1="914.6" y1="493" x2="914.6" y2="519" stroke="#BDBDBD" stroke-width="2.3" stroke-linecap="butt"/>
<line x1="908.6" y1="493" x2="920.6" y2="493" stroke="#BDBDBD" stroke-width="2.3" stroke-linecap="butt"/>
<line x1="908.6" y1="519" x2="920.6" y2="519" stroke="#BDBDBD" stroke-width="2.3" stroke-linecap="butt"/>
<polyline points="636,548 775.2,525 914.6,506.5" fill="none" stroke="#BDBDBD" stroke-width="2.8" stroke-linejoin="round"/>
<polygon points="636.0,542.5 637.3,546.2 641.2,546.3 638.1,548.7 639.2,552.4 636.0,550.2 632.8,552.4 633.9,548.7 630.8,546.3 634.7,546.2" fill="#BDBDBD"/>
<polygon points="775.2,519.5 776.5,523.2 780.4,523.3 777.3,525.7 778.4,529.4 775.2,527.2 772.0,529.4 773.1,525.7 770.0,523.3 773.9,523.2" fill="#BDBDBD"/>
<polygon points="914.6,501.0 915.9,504.7 919.8,504.8 916.7,507.2 917.8,510.9 914.6,508.7 911.4,510.9 912.5,507.2 909.4,504.8 913.3,504.7" fill="#BDBDBD"/>
<line x1="775.2" y1="508.3" x2="775.2" y2="530" stroke="#009051" stroke-width="2.3" stroke-linecap="butt"/>
<line x1="769.2" y1="508.3" x2="781.2" y2="508.3" stroke="#009051" stroke-width="2.3" stroke-linecap="butt"/>
<line x1="769.2" y1="530" x2="781.2" y2="530" stroke="#009051" stroke-width="2.3" stroke-linecap="butt"/>
<line x1="914.6" y1="496.5" x2="914.6" y2="511" stroke="#009051" stroke-width="2.3" stroke-linecap="butt"/>
<line x1="908.6" y1="496.5" x2="920.6" y2="496.5" stroke="#009051" stroke-width="2.3" stroke-linecap="butt"/>
<line x1="908.6" y1="511" x2="920.6" y2="511" stroke="#009051" stroke-width="2.3" stroke-linecap="butt"/>
<polyline points="636,544.8 775.2,519.1 914.6,503.8" fill="none" stroke="#009051" stroke-width="3.5" stroke-linejoin="round"/>
<line x1="636.0" y1="539.3" x2="636.0" y2="550.3" stroke="#009051" stroke-width="2.6" stroke-linecap="butt"/>
<line x1="640.8" y1="542.0" x2="631.2" y2="547.5" stroke="#009051" stroke-width="2.6" stroke-linecap="butt"/>
<line x1="640.8" y1="547.5" x2="631.2" y2="542.0" stroke="#009051" stroke-width="2.6" stroke-linecap="butt"/>
<line x1="775.2" y1="513.6" x2="775.2" y2="524.6" stroke="#009051" stroke-width="2.6" stroke-linecap="butt"/>
<line x1="780.0" y1="516.4" x2="770.4" y2="521.9" stroke="#009051" stroke-width="2.6" stroke-linecap="butt"/>
<line x1="780.0" y1="521.9" x2="770.4" y2="516.4" stroke="#009051" stroke-width="2.6" stroke-linecap="butt"/>
<line x1="914.6" y1="498.3" x2="914.6" y2="509.3" stroke="#009051" stroke-width="2.6" stroke-linecap="butt"/>
<line x1="919.4" y1="501.1" x2="909.8" y2="506.6" stroke="#009051" stroke-width="2.6" stroke-linecap="butt"/>
<line x1="919.4" y1="506.6" x2="909.8" y2="501.1" stroke="#009051" stroke-width="2.6" stroke-linecap="butt"/>
<line x1="543.6" y1="278.45000000000005" x2="543.6" y2="563.2" stroke="#262626" stroke-width="2.7" stroke-linecap="butt"/>
<line x1="536" y1="563.2" x2="1007.5" y2="563.2" stroke="#262626" stroke-width="2.7" stroke-linecap="butt"/>
<line x1="536.1" y1="279.6" x2="543.6" y2="279.6" stroke="#262626" stroke-width="2.3" stroke-linecap="butt"/>
<text  font-size="14" font-weight="bold" text-anchor="end" fill="#1a1a1a" textLength="14.4" lengthAdjust="spacingAndGlyphs" x="535.1" y="284.6" >80</text>
<line x1="536.1" y1="350.6" x2="543.6" y2="350.6" stroke="#262626" stroke-width="2.3" stroke-linecap="butt"/>
<text  font-size="14" font-weight="bold" text-anchor="end" fill="#1a1a1a" textLength="14.4" lengthAdjust="spacingAndGlyphs" x="535.1" y="355.6" >60</text>
<line x1="536.1" y1="421.6" x2="543.6" y2="421.6" stroke="#262626" stroke-width="2.3" stroke-linecap="butt"/>
<text  font-size="14" font-weight="bold" text-anchor="end" fill="#1a1a1a" textLength="14.4" lengthAdjust="spacingAndGlyphs" x="535.1" y="426.6" >40</text>
<line x1="536.1" y1="492.6" x2="543.6" y2="492.6" stroke="#262626" stroke-width="2.3" stroke-linecap="butt"/>
<text  font-size="14" font-weight="bold" text-anchor="end" fill="#1a1a1a" textLength="14.4" lengthAdjust="spacingAndGlyphs" x="535.1" y="497.6" >20</text>
<line x1="536.1" y1="563.2" x2="543.6" y2="563.2" stroke="#262626" stroke-width="2.3" stroke-linecap="butt"/>
<text  font-size="14" font-weight="bold" text-anchor="end" fill="#1a1a1a" textLength="7.2" lengthAdjust="spacingAndGlyphs" x="535.1" y="568.2" >0</text>
<line x1="636" y1="563.2" x2="636" y2="570.2" stroke="#262626" stroke-width="2.43" stroke-linecap="butt"/>
<line x1="775.6" y1="563.2" x2="775.6" y2="570.2" stroke="#262626" stroke-width="2.43" stroke-linecap="butt"/>
<line x1="915.2" y1="563.2" x2="915.2" y2="570.2" stroke="#262626" stroke-width="2.43" stroke-linecap="butt"/>
<text  font-size="22.6" font-weight="bold" text-anchor="end" fill="#000" textLength="22.6" lengthAdjust="spacingAndGlyphs" transform="translate(648.8,582.7) rotate(-41)" stroke="#000" stroke-width="0.45" >P1</text>
<text  font-size="22.6" font-weight="bold" text-anchor="end" fill="#000" textLength="35.3" lengthAdjust="spacingAndGlyphs" transform="translate(788.0,584.7) rotate(-41)" stroke="#000" stroke-width="0.45" >P15</text>
<text  font-size="22.6" font-weight="bold" text-anchor="end" fill="#000" textLength="35.3" lengthAdjust="spacingAndGlyphs" transform="translate(927.0,581.1) rotate(-41)" stroke="#000" stroke-width="0.45" >P60</text>
<line x1="528.7" y1="222" x2="553.6" y2="222" stroke="#005493" stroke-width="3.2" stroke-linecap="butt"/>
<circle cx="541.1500000000001" cy="222" r="4.83" fill="#005493"/>
<text  font-size="20" font-weight="bold" text-anchor="start" fill="#000" textLength="81.5" lengthAdjust="spacingAndGlyphs" x="562" y="226.5" stroke="#000" stroke-width="0.45" >CpG -118</text>
<line x1="655.8" y1="222" x2="679.5" y2="222" stroke="#009193" stroke-width="3.2" stroke-linecap="butt"/>
<rect x="662.1899999999999" y="216.54" width="10.920000000000002" height="10.920000000000002" fill="#009193"/>
<text  font-size="20" font-weight="bold" text-anchor="start" fill="#000" textLength="69" lengthAdjust="spacingAndGlyphs" x="684.4" y="226.5" stroke="#000" stroke-width="0.45" >CpG -91</text>
<line x1="774" y1="221" x2="799" y2="221" stroke="#FF9300" stroke-width="3.2" stroke-linecap="butt"/>
<polygon points="786.5,215.225 780.725,225.62 792.275,225.62" fill="#FF9300"/>
<text  font-size="20" font-weight="bold" text-anchor="start" fill="#000" textLength="69" lengthAdjust="spacingAndGlyphs" x="805.3" y="226.5" stroke="#000" stroke-width="0.45" >CpG -47</text>
<line x1="891" y1="219" x2="914" y2="219" stroke="#FFD479" stroke-width="3.2" stroke-linecap="butt"/>
<polygon points="902.5,224.775 896.725,214.38 908.275,214.38" fill="#FFD479"/>
<text  font-size="20" font-weight="bold" text-anchor="start" fill="#000" textLength="57.5" lengthAdjust="spacingAndGlyphs" x="920" y="224" stroke="#000" stroke-width="0.45" >CpG -3</text>
<line x1="528.7" y1="254.8" x2="553.6" y2="254.8" stroke="#941751" stroke-width="3.2" stroke-linecap="butt"/>
<circle cx="541.1500000000001" cy="254.8" r="4.83" fill="#941751"/>
<text  font-size="20" font-weight="bold" text-anchor="start" fill="#000" textLength="73" lengthAdjust="spacingAndGlyphs" x="562" y="259" stroke="#000" stroke-width="0.45" >CpG +92</text>
<line x1="655.8" y1="254.8" x2="679.5" y2="254.8" stroke="#BDBDBD" stroke-width="3.2" stroke-linecap="butt"/>
<polygon points="667.6,249.0 669.0,252.9 673.1,253.0 669.8,255.5 671.0,259.5 667.6,257.1 664.3,259.5 665.5,255.5 662.2,253.0 666.3,252.9" fill="#BDBDBD"/>
<text  font-size="20" font-weight="bold" text-anchor="start" fill="#000" textLength="84" lengthAdjust="spacingAndGlyphs" x="684.4" y="259" stroke="#000" stroke-width="0.45" >CpG +112</text>
<line x1="774" y1="253.5" x2="800" y2="253.5" stroke="#009051" stroke-width="3.2" stroke-linecap="butt"/>
<line x1="787.0" y1="247.7" x2="787.0" y2="259.3" stroke="#009051" stroke-width="2.6" stroke-linecap="butt"/>
<line x1="792.0" y1="250.6" x2="782.0" y2="256.4" stroke="#009051" stroke-width="2.6" stroke-linecap="butt"/>
<line x1="792.0" y1="256.4" x2="782.0" y2="250.6" stroke="#009051" stroke-width="2.6" stroke-linecap="butt"/>
<text  font-size="20" font-weight="bold" text-anchor="start" fill="#000" textLength="83" lengthAdjust="spacingAndGlyphs" x="807.8" y="259" stroke="#000" stroke-width="0.45" >CpG +131</text>
<text  font-size="37" font-weight="bold" text-anchor="start" fill="#000" textLength="32" lengthAdjust="spacingAndGlyphs" x="1538.5" y="220.2" stroke="#000" stroke-width="0.45" >h)</text>
<text  font-size="23.5" font-weight="bold" text-anchor="middle" fill="#000" textLength="263" lengthAdjust="spacingAndGlyphs" transform="translate(1534.6,430.6) rotate(-90)" stroke="#000" stroke-width="0.45" >Average Methylation (%)</text>
<line x1="1787.5" y1="407.7" x2="1787.5" y2="458" stroke="#2f6bb0" stroke-width="2.3" stroke-linecap="butt"/>
<line x1="1781.5" y1="407.7" x2="1793.5" y2="407.7" stroke="#2f6bb0" stroke-width="2.3" stroke-linecap="butt"/>
<line x1="1781.5" y1="458" x2="1793.5" y2="458" stroke="#2f6bb0" stroke-width="2.3" stroke-linecap="butt"/>
<line x1="1914.8" y1="407.3" x2="1914.8" y2="480.5" stroke="#2f6bb0" stroke-width="2.3" stroke-linecap="butt"/>
<line x1="1908.8" y1="407.3" x2="1920.8" y2="407.3" stroke="#2f6bb0" stroke-width="2.3" stroke-linecap="butt"/>
<line x1="1908.8" y1="480.5" x2="1920.8" y2="480.5" stroke="#2f6bb0" stroke-width="2.3" stroke-linecap="butt"/>
<polyline points="1659.6,476.2 1787.5,433.7 1914.8,443.8" fill="none" stroke="#005493" stroke-width="3.5" stroke-linejoin="round"/>
<polygon points="1659.6,470.7 1665.1,476.2 1659.6,481.7 1654.1,476.2" fill="#005493"/>
<polygon points="1787.5,428.2 1793.0,433.7 1787.5,439.2 1782.0,433.7" fill="#005493"/>
<polygon points="1914.8,438.3 1920.3,443.8 1914.8,449.3 1909.3,443.8" fill="#005493"/>
<line x1="1787.5" y1="312.8" x2="1787.5" y2="326.5" stroke="#009193" stroke-width="2.3" stroke-linecap="butt"/>
<line x1="1781.5" y1="312.8" x2="1793.5" y2="312.8" stroke="#009193" stroke-width="2.3" stroke-linecap="butt"/>
<line x1="1781.5" y1="326.5" x2="1793.5" y2="326.5" stroke="#009193" stroke-width="2.3" stroke-linecap="butt"/>
<line x1="1914.8" y1="307.3" x2="1914.8" y2="328.4" stroke="#009193" stroke-width="2.3" stroke-linecap="butt"/>
<line x1="1908.8" y1="307.3" x2="1920.8" y2="307.3" stroke="#009193" stroke-width="2.3" stroke-linecap="butt"/>
<line x1="1908.8" y1="328.4" x2="1920.8" y2="328.4" stroke="#009193" stroke-width="2.3" stroke-linecap="butt"/>
<polyline points="1659.6,380.8 1787.5,320 1914.8,318.4" fill="none" stroke="#009193" stroke-width="3.5" stroke-linejoin="round"/>
<rect x="1654.1399999999999" y="375.34000000000003" width="10.920000000000002" height="10.920000000000002" fill="#009193"/>
<rect x="1782.04" y="314.54" width="10.920000000000002" height="10.920000000000002" fill="#009193"/>
<rect x="1909.34" y="312.94" width="10.920000000000002" height="10.920000000000002" fill="#009193"/>
<line x1="1787.5" y1="503.4" x2="1787.5" y2="515.9" stroke="#FF9300" stroke-width="2.3" stroke-linecap="butt"/>
<line x1="1781.5" y1="503.4" x2="1793.5" y2="503.4" stroke="#FF9300" stroke-width="2.3" stroke-linecap="butt"/>
<line x1="1781.5" y1="515.9" x2="1793.5" y2="515.9" stroke="#FF9300" stroke-width="2.3" stroke-linecap="butt"/>
<line x1="1914.8" y1="485.8" x2="1914.8" y2="501" stroke="#FF9300" stroke-width="2.3" stroke-linecap="butt"/>
<line x1="1908.8" y1="485.8" x2="1920.8" y2="485.8" stroke="#FF9300" stroke-width="2.3" stroke-linecap="butt"/>
<line x1="1908.8" y1="501" x2="1920.8" y2="501" stroke="#FF9300" stroke-width="2.3" stroke-linecap="butt"/>
<polyline points="1659.6,533.9 1787.5,509.8 1914.8,493.7" fill="none" stroke="#FF9300" stroke-width="3.5" stroke-linejoin="round"/>
<polygon points="1659.6,528.4 1654.1,538.3 1665.1,538.3" fill="#FF9300"/>
<polygon points="1787.5,504.3 1782.0,514.2 1793.0,514.2" fill="#FF9300"/>
<polygon points="1914.8,488.2 1909.3,498.09999999999997 1920.3,498.09999999999997" fill="#FF9300"/>
<line x1="1787.5" y1="524.5" x2="1787.5" y2="533" stroke="#FFD479" stroke-width="2.3" stroke-linecap="butt"/>
<line x1="1781.5" y1="524.5" x2="1793.5" y2="524.5" stroke="#FFD479" stroke-width="2.3" stroke-linecap="butt"/>
<line x1="1781.5" y1="533" x2="1793.5" y2="533" stroke="#FFD479" stroke-width="2.3" stroke-linecap="butt"/>
<line x1="1914.8" y1="500" x2="1914.8" y2="512.5" stroke="#FFD479" stroke-width="2.3" stroke-linecap="butt"/>
<line x1="1908.8" y1="500" x2="1920.8" y2="500" stroke="#FFD479" stroke-width="2.3" stroke-linecap="butt"/>
<line x1="1908.8" y1="512.5" x2="1920.8" y2="512.5" stroke="#FFD479" stroke-width="2.3" stroke-linecap="butt"/>
<polyline points="1659.6,539.9 1787.5,528.6 1914.8,506.2" fill="none" stroke="#FFD479" stroke-width="3.5" stroke-linejoin="round"/>
<polygon points="1659.6,545.4 1654.1,535.5 1665.1,535.5" fill="#FFD479"/>
<polygon points="1787.5,534.1 1782.0,524.2 1793.0,524.2" fill="#FFD479"/>
<polygon points="1914.8,511.7 1909.3,501.8 1920.3,501.8" fill="#FFD479"/>
<line x1="1787.5" y1="387.5" x2="1787.5" y2="397" stroke="#941751" stroke-width="2.3" stroke-linecap="butt"/>
<line x1="1781.5" y1="387.5" x2="1793.5" y2="387.5" stroke="#941751" stroke-width="2.3" stroke-linecap="butt"/>
<line x1="1781.5" y1="397" x2="1793.5" y2="397" stroke="#941751" stroke-width="2.3" stroke-linecap="butt"/>
<line x1="1914.8" y1="376" x2="1914.8" y2="392.8" stroke="#941751" stroke-width="2.3" stroke-linecap="butt"/>
<line x1="1908.8" y1="376" x2="1920.8" y2="376" stroke="#941751" stroke-width="2.3" stroke-linecap="butt"/>
<line x1="1908.8" y1="392.8" x2="1920.8" y2="392.8" stroke="#941751" stroke-width="2.3" stroke-linecap="butt"/>
<polyline points="1659.6,407 1787.5,392.1 1914.8,384.9" fill="none" stroke="#941751" stroke-width="3.5" stroke-linejoin="round"/>
<polygon points="1659.6,400.95 1665.6499999999999,407 1659.6,413.05 1653.55,407" fill="#941751"/>
<polygon points="1787.5,386.05 1793.55,392.1 1787.5,398.15000000000003 1781.45,392.1" fill="#941751"/>
<polygon points="1914.8,378.84999999999997 1920.85,384.9 1914.8,390.95 1908.75,384.9" fill="#941751"/>
<line x1="1914.8" y1="366" x2="1914.8" y2="375" stroke="#BDBDBD" stroke-width="2.3" stroke-linecap="butt"/>
<line x1="1908.8" y1="366" x2="1920.8" y2="366" stroke="#BDBDBD" stroke-width="2.3" stroke-linecap="butt"/>
<line x1="1908.8" y1="375" x2="1920.8" y2="375" stroke="#BDBDBD" stroke-width="2.3" stroke-linecap="butt"/>
<polyline points="1659.6,419 1787.5,381.3 1914.8,370.5" fill="none" stroke="#BDBDBD" stroke-width="3.5" stroke-linejoin="round"/>
<polygon points="1659.6,413.5 1660.9,417.2 1664.8,417.3 1661.7,419.7 1662.8,423.4 1659.6,421.2 1656.4,423.4 1657.5,419.7 1654.4,417.3 1658.3,417.2" fill="#BDBDBD"/>
<polygon points="1787.5,375.8 1788.8,379.5 1792.7,379.6 1789.6,382.0 1790.7,385.7 1787.5,383.5 1784.3,385.7 1785.4,382.0 1782.3,379.6 1786.2,379.5" fill="#BDBDBD"/>
<polygon points="1914.8,365.0 1916.1,368.7 1920.0,368.8 1916.9,371.2 1918.0,374.9 1914.8,372.7 1911.6,374.9 1912.7,371.2 1909.6,368.8 1913.5,368.7" fill="#BDBDBD"/>
<line x1="1914.8" y1="435.4" x2="1914.8" y2="448" stroke="#009051" stroke-width="2.3" stroke-linecap="butt"/>
<line x1="1908.8" y1="435.4" x2="1920.8" y2="435.4" stroke="#009051" stroke-width="2.3" stroke-linecap="butt"/>
<line x1="1908.8" y1="448" x2="1920.8" y2="448" stroke="#009051" stroke-width="2.3" stroke-linecap="butt"/>
<polyline points="1659.6,481.5 1787.5,461.1 1914.8,441.4" fill="none" stroke="#009051" stroke-width="3.5" stroke-linejoin="round"/>
<line x1="1659.6" y1="476.0" x2="1659.6" y2="487.0" stroke="#009051" stroke-width="2.6" stroke-linecap="butt"/>
<line x1="1664.4" y1="478.8" x2="1654.8" y2="484.2" stroke="#009051" stroke-width="2.6" stroke-linecap="butt"/>
<line x1="1664.4" y1="484.2" x2="1654.8" y2="478.8" stroke="#009051" stroke-width="2.6" stroke-linecap="butt"/>
<line x1="1787.5" y1="455.6" x2="1787.5" y2="466.6" stroke="#009051" stroke-width="2.6" stroke-linecap="butt"/>
<line x1="1792.3" y1="458.4" x2="1782.7" y2="463.9" stroke="#009051" stroke-width="2.6" stroke-linecap="butt"/>
<line x1="1792.3" y1="463.9" x2="1782.7" y2="458.4" stroke="#009051" stroke-width="2.6" stroke-linecap="butt"/>
<line x1="1914.8" y1="435.9" x2="1914.8" y2="446.9" stroke="#009051" stroke-width="2.6" stroke-linecap="butt"/>
<line x1="1919.6" y1="438.6" x2="1910.0" y2="444.1" stroke="#009051" stroke-width="2.6" stroke-linecap="butt"/>
<line x1="1919.6" y1="444.1" x2="1910.0" y2="438.6" stroke="#009051" stroke-width="2.6" stroke-linecap="butt"/>
<line x1="1914.8" y1="408.5" x2="1914.8" y2="419" stroke="#000" stroke-width="2.3" stroke-linecap="butt"/>
<line x1="1908.8" y1="408.5" x2="1920.8" y2="408.5" stroke="#000" stroke-width="2.3" stroke-linecap="butt"/>
<line x1="1908.8" y1="419" x2="1920.8" y2="419" stroke="#000" stroke-width="2.3" stroke-linecap="butt"/>
<polyline points="1659.6,472.6 1787.5,435.4 1914.8,413.7" fill="none" stroke="#000" stroke-width="3.5" stroke-linejoin="round"/>
<line x1="1659.6" y1="466.6" x2="1659.6" y2="478.7" stroke="#000" stroke-width="2.6" stroke-linecap="butt"/>
<line x1="1664.8" y1="469.6" x2="1654.4" y2="475.6" stroke="#000" stroke-width="2.6" stroke-linecap="butt"/>
<line x1="1664.8" y1="475.6" x2="1654.4" y2="469.6" stroke="#000" stroke-width="2.6" stroke-linecap="butt"/>
<line x1="1787.5" y1="429.3" x2="1787.5" y2="441.4" stroke="#000" stroke-width="2.6" stroke-linecap="butt"/>
<line x1="1792.7" y1="432.4" x2="1782.3" y2="438.4" stroke="#000" stroke-width="2.6" stroke-linecap="butt"/>
<line x1="1792.7" y1="438.4" x2="1782.3" y2="432.4" stroke="#000" stroke-width="2.6" stroke-linecap="butt"/>
<line x1="1914.8" y1="407.6" x2="1914.8" y2="419.8" stroke="#000" stroke-width="2.6" stroke-linecap="butt"/>
<line x1="1920.0" y1="410.7" x2="1909.6" y2="416.7" stroke="#000" stroke-width="2.6" stroke-linecap="butt"/>
<line x1="1920.0" y1="416.7" x2="1909.6" y2="410.7" stroke="#000" stroke-width="2.6" stroke-linecap="butt"/>
<line x1="1575.1" y1="305.15000000000003" x2="1575.1" y2="578.6" stroke="#262626" stroke-width="2.7" stroke-linecap="butt"/>
<line x1="1567.5" y1="578.6" x2="2000" y2="578.6" stroke="#262626" stroke-width="2.7" stroke-linecap="butt"/>
<line x1="1567.6" y1="306.3" x2="1575.1" y2="306.3" stroke="#262626" stroke-width="2.3" stroke-linecap="butt"/>
<text  font-size="14" font-weight="bold" text-anchor="end" fill="#1a1a1a" textLength="14.4" lengthAdjust="spacingAndGlyphs" x="1566.6" y="311.3" >80</text>
<line x1="1567.6" y1="374.5" x2="1575.1" y2="374.5" stroke="#262626" stroke-width="2.3" stroke-linecap="butt"/>
<text  font-size="14" font-weight="bold" text-anchor="end" fill="#1a1a1a" textLength="14.4" lengthAdjust="spacingAndGlyphs" x="1566.6" y="379.5" >60</text>
<line x1="1567.6" y1="442.6" x2="1575.1" y2="442.6" stroke="#262626" stroke-width="2.3" stroke-linecap="butt"/>
<text  font-size="14" font-weight="bold" text-anchor="end" fill="#1a1a1a" textLength="14.4" lengthAdjust="spacingAndGlyphs" x="1566.6" y="447.6" >40</text>
<line x1="1567.6" y1="510.4" x2="1575.1" y2="510.4" stroke="#262626" stroke-width="2.3" stroke-linecap="butt"/>
<text  font-size="14" font-weight="bold" text-anchor="end" fill="#1a1a1a" textLength="14.4" lengthAdjust="spacingAndGlyphs" x="1566.6" y="515.4" >20</text>
<line x1="1567.6" y1="578.6" x2="1575.1" y2="578.6" stroke="#262626" stroke-width="2.3" stroke-linecap="butt"/>
<text  font-size="14" font-weight="bold" text-anchor="end" fill="#1a1a1a" textLength="7.2" lengthAdjust="spacingAndGlyphs" x="1566.6" y="583.6" >0</text>
<line x1="1660" y1="578.6" x2="1660" y2="585.6" stroke="#262626" stroke-width="2.43" stroke-linecap="butt"/>
<line x1="1787.7" y1="578.6" x2="1787.7" y2="585.6" stroke="#262626" stroke-width="2.43" stroke-linecap="butt"/>
<line x1="1914.9" y1="578.6" x2="1914.9" y2="585.6" stroke="#262626" stroke-width="2.43" stroke-linecap="butt"/>
<text  font-size="24.6" font-weight="bold" text-anchor="end" fill="#000" textLength="24.6" lengthAdjust="spacingAndGlyphs" transform="translate(1677.7,597.7) rotate(-41)" stroke="#000" stroke-width="0.45" >P1</text>
<text  font-size="24.6" font-weight="bold" text-anchor="end" fill="#000" textLength="38.4" lengthAdjust="spacingAndGlyphs" transform="translate(1805.8,595.0) rotate(-41)" stroke="#000" stroke-width="0.45" >P15</text>
<text  font-size="24.6" font-weight="bold" text-anchor="end" fill="#000" textLength="38.4" lengthAdjust="spacingAndGlyphs" transform="translate(1935.7,594.0) rotate(-41)" stroke="#000" stroke-width="0.45" >P60</text>
<line x1="1553.5" y1="244" x2="1575.5" y2="244" stroke="#005493" stroke-width="3.2" stroke-linecap="butt"/>
<polygon points="1564.5,238.225 1570.275,244 1564.5,249.775 1558.725,244" fill="#005493"/>
<text  font-size="20.5" font-weight="bold" text-anchor="start" fill="#000" textLength="79.5" lengthAdjust="spacingAndGlyphs" x="1579.5" y="248" stroke="#000" stroke-width="0.45" >CpG -324</text>
<line x1="1668.5" y1="242.8" x2="1691" y2="242.8" stroke="#009193" stroke-width="3.2" stroke-linecap="butt"/>
<rect x="1674.29" y="237.34" width="10.920000000000002" height="10.920000000000002" fill="#009193"/>
<text  font-size="20.5" font-weight="bold" text-anchor="start" fill="#000" textLength="79.5" lengthAdjust="spacingAndGlyphs" x="1695.6" y="250.2" stroke="#000" stroke-width="0.45" >CpG -227</text>
<line x1="1781.6" y1="242.8" x2="1803.6" y2="242.8" stroke="#FF9300" stroke-width="3.2" stroke-linecap="butt"/>
<polygon points="1792.6,237.025 1786.8249999999998,247.42000000000002 1798.375,247.42000000000002" fill="#FF9300"/>
<text  font-size="20.5" font-weight="bold" text-anchor="start" fill="#000" textLength="68.5" lengthAdjust="spacingAndGlyphs" x="1809" y="247.2" stroke="#000" stroke-width="0.45" >CpG -71</text>
<line x1="1890.8" y1="242.5" x2="1912.8" y2="242.5" stroke="#FFD479" stroke-width="3.2" stroke-linecap="butt"/>
<polygon points="1901.8,248.275 1896.0249999999999,237.88 1907.575,237.88" fill="#FFD479"/>
<text  font-size="20.5" font-weight="bold" text-anchor="start" fill="#000" textLength="68.8" lengthAdjust="spacingAndGlyphs" x="1919" y="247.2" stroke="#000" stroke-width="0.45" >CpG -51</text>
<line x1="1553.5" y1="273.4" x2="1575.5" y2="273.4" stroke="#941751" stroke-width="3.2" stroke-linecap="butt"/>
<polygon points="1564.5,267.625 1570.275,273.4 1564.5,279.17499999999995 1558.725,273.4" fill="#941751"/>
<text  font-size="20.5" font-weight="bold" text-anchor="start" fill="#000" textLength="57.5" lengthAdjust="spacingAndGlyphs" x="1579.5" y="279.2" stroke="#000" stroke-width="0.45" >CpG -8</text>
<line x1="1669" y1="271.6" x2="1688.7" y2="271.6" stroke="#BDBDBD" stroke-width="3.2" stroke-linecap="butt"/>
<polygon points="1678.8,265.8 1680.2,269.7 1684.3,269.8 1681.0,272.3 1682.2,276.3 1678.8,273.9 1675.5,276.3 1676.7,272.3 1673.4,269.8 1677.5,269.7" fill="#BDBDBD"/>
<text  font-size="20.5" font-weight="bold" text-anchor="start" fill="#000" textLength="62" lengthAdjust="spacingAndGlyphs" x="1695.2" y="277.4" stroke="#000" stroke-width="0.45" >CpG +1</text>
<line x1="1781.6" y1="271.1" x2="1803.2" y2="271.1" stroke="#009051" stroke-width="3.2" stroke-linecap="butt"/>
<line x1="1792.4" y1="265.3" x2="1792.4" y2="276.9" stroke="#009051" stroke-width="2.6" stroke-linecap="butt"/>
<line x1="1797.4" y1="268.2" x2="1787.4" y2="274.0" stroke="#009051" stroke-width="2.6" stroke-linecap="butt"/>
<line x1="1797.4" y1="274.0" x2="1787.4" y2="268.2" stroke="#009051" stroke-width="2.6" stroke-linecap="butt"/>
<text  font-size="20.5" font-weight="bold" text-anchor="start" fill="#000" textLength="62" lengthAdjust="spacingAndGlyphs" x="1807.6" y="277" stroke="#000" stroke-width="0.45" >CpG +5</text>
<line x1="1888.4" y1="271.6" x2="1911.2" y2="271.6" stroke="#000" stroke-width="3.2" stroke-linecap="butt"/>
<line x1="1899.8" y1="265.8" x2="1899.8" y2="277.4" stroke="#000" stroke-width="2.6" stroke-linecap="butt"/>
<line x1="1904.8" y1="268.7" x2="1894.8" y2="274.5" stroke="#000" stroke-width="2.6" stroke-linecap="butt"/>
<line x1="1904.8" y1="274.5" x2="1894.8" y2="268.7" stroke="#000" stroke-width="2.6" stroke-linecap="butt"/>
<text  font-size="20.5" font-weight="bold" text-anchor="start" fill="#000" textLength="73.5" lengthAdjust="spacingAndGlyphs" x="1919" y="275.3" stroke="#000" stroke-width="0.45" >CpG +25</text>
</svg>
</body></html>
